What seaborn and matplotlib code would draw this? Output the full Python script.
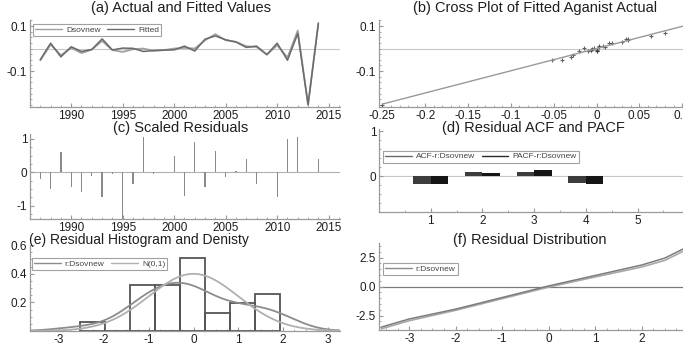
import numpy as np
import pandas as pd
import matplotlib
matplotlib.use("Agg")
import matplotlib.pyplot as plt
from matplotlib.ticker import MultipleLocator, FuncFormatter, FixedLocator
from matplotlib.lines import Line2D
import seaborn as sns

# ---------------- data ----------------
years = list(range(1987, 2015))
actual = [-0.052, 0.018, -0.030, 0.003, -0.020, -0.005, 0.034, -0.007, -0.015, -0.003,
          0.000, -0.010, -0.007, 0.000, 0.003, 0.000, 0.037, 0.064, 0.037, 0.030,
          0.010, 0.007, -0.027, 0.015, -0.040, 0.080, -0.250, 0.115]
fitted = [-0.050, 0.024, -0.037, 0.008, -0.013, -0.004, 0.043, -0.006, 0.002, 0.001,
          -0.013, -0.009, -0.007, -0.006, 0.011, -0.011, 0.042, 0.056, 0.039, 0.029,
          0.005, 0.011, -0.027, 0.024, -0.052, 0.067, -0.250, 0.110]
scaled_resid = [-0.20, -0.50, 0.60, -0.45, -0.60, -0.10, -0.75, -0.05, -1.40, -0.35,
                1.05, -0.05, 0.00, 0.50, -0.70, 0.90, -0.45, 0.65, -0.15, 0.05,
                0.40, -0.35, 0.00, -0.75, 1.00, 1.05, 0.00, 0.40]

lags = [1, 2, 3, 4]
acf = [-0.17, 0.10, 0.09, -0.16]
pacf = [-0.18, 0.07, 0.14, -0.17]

std_resid = [-0.36, -0.90, 1.08, -0.81, -1.08, -0.18, -1.35, -0.09, -2.50, -0.63,
             1.85, -0.09, 0.00, 0.90, -1.26, 1.62, -0.81, 1.17, -0.27, 0.09,
             0.72, -0.63, 0.00, -1.35, 1.80, 1.89, 0.02, 0.72]
hist_edges = [-2.53, -1.97, -1.42, -0.86, -0.30, 0.26, 0.82, 1.37, 1.93]

qq_x = [-3.6, -3.0, -2.0, -1.0, 0.0, 1.0, 2.0, 2.5, 2.9]
qq_resid = [-3.50, -2.80, -1.95, -0.95, 0.05, 0.95, 1.85, 2.45, 3.25]
qq_ref = [-3.65, -2.95, -2.05, -1.05, -0.05, 0.82, 1.68, 2.25, 3.05]

# ---------------- style ----------------
sns.set_theme(style="ticks")
plt.rcParams["font.family"] = ["Liberation Sans", "DejaVu Sans"]
plt.rcParams["axes.unicode_minus"] = False

W, H = 683, 347
fig = plt.figure(figsize=(W / 100, H / 100), dpi=100)


def box(left, top, right, bottom):
    return [left / W, 1 - bottom / H, (right - left) / W, (bottom - top) / H]


AX_COL = "#9a9a9a"
TXT_COL = "#1e1e1e"


def style(ax):
    sns.despine(ax=ax)
    for s in ("left", "bottom"):
        ax.spines[s].set_color(AX_COL)
        ax.spines[s].set_linewidth(0.9)
    ax.tick_params(which="major", direction="in", length=3, width=0.8, color=AX_COL,
                   labelsize=8.5, labelcolor=TXT_COL, pad=2)
    ax.tick_params(which="minor", direction="in", length=1.5, width=0.6, color=AX_COL)
    ax.set_xlabel("")
    ax.set_ylabel("")
    ax.set_facecolor("white")


def title(x, y, s, size=10.5):
    fig.text(x / W, 1 - y / H, s, ha="center", va="center", fontsize=size, color=TXT_COL)


def legend(ax, handles, anchor, ncol):
    lg = ax.legend(handles=handles, loc="upper left", bbox_to_anchor=anchor, ncol=ncol,
                   fontsize=6, frameon=True, fancybox=False, handlelength=3.2,
                   borderpad=0.25, columnspacing=0.8, handletextpad=0.5,
                   borderaxespad=0)
    lg.get_frame().set_edgecolor("#8a8a8a")
    lg.get_frame().set_linewidth(0.8)
    for t in lg.get_texts():
        t.set_color("#444444")


fmt_g = FuncFormatter(lambda v, p: f"{v:g}")

# (a) Actual and fitted values
ax_a = fig.add_axes(box(30, 20, 340, 107))
ax_a.axhline(0, color="#c8c8c8", lw=0.8, zorder=0)
sns.lineplot(x=years, y=actual, ax=ax_a, color="#a0a0a0", lw=1.3)
sns.lineplot(x=years, y=fitted, ax=ax_a, color="#6a6a6a", lw=1.1)
ax_a.set_xlim(1986, 2016.1)
ax_a.set_ylim(-0.26, 0.127)
ax_a.xaxis.set_major_locator(FixedLocator([1990, 1995, 2000, 2005, 2010, 2015]))
ax_a.xaxis.set_minor_locator(MultipleLocator(1))
ax_a.yaxis.set_major_locator(FixedLocator([-0.1, 0.1]))
ax_a.yaxis.set_minor_locator(MultipleLocator(0.025))
ax_a.yaxis.set_major_formatter(fmt_g)
style(ax_a)
legend(ax_a, [Line2D([], [], color="#a0a0a0", lw=1, label="Dsovnew"),
              Line2D([], [], color="#6a6a6a", lw=1, label="Fitted")], (0.01, 0.955), 2)
title(181, 8, "(a) Actual and Fitted Values")

# (b) Cross plot of fitted against actual
ax_b = fig.add_axes(box(379, 20, 683, 107))
ax_b.axhline(0, color="#c8c8c8", lw=0.8, zorder=0)
sns.regplot(x=actual, y=fitted, ax=ax_b, ci=None, marker="+",
            scatter_kws=dict(s=10, color="#3a3a3a", linewidths=0.8),
            line_kws=dict(color="#9a9a9a", lw=1.0))
ax_b.set_xlim(-0.254, 0.101)
ax_b.set_ylim(-0.26, 0.127)
ax_b.xaxis.set_major_locator(MultipleLocator(0.05))
ax_b.xaxis.set_minor_locator(MultipleLocator(0.01))
ax_b.xaxis.set_major_formatter(FuncFormatter(lambda v, p: f"{round(v, 2):g}"))
ax_b.yaxis.set_major_locator(FixedLocator([-0.1, 0.1]))
ax_b.yaxis.set_minor_locator(MultipleLocator(0.025))
ax_b.yaxis.set_major_formatter(fmt_g)
style(ax_b)
title(535, 8, "(b) Cross Plot of Fitted Aganist Actual")

# (c) Scaled residuals
ax_c = fig.add_axes(box(30, 134, 340, 219))
ax_c.axhline(0, color="#b0b0b0", lw=0.8, zorder=0)
sns.barplot(x=years, y=scaled_resid, ax=ax_c, native_scale=True, width=0.12,
            color="#8a8a8a", linewidth=0, saturation=1)
ax_c.set_xlim(1986, 2016.1)
ax_c.set_ylim(-1.4, 1.15)
ax_c.xaxis.set_major_locator(FixedLocator([1990, 1995, 2000, 2005, 2010, 2015]))
ax_c.xaxis.set_minor_locator(MultipleLocator(1))
ax_c.yaxis.set_major_locator(FixedLocator([-1, 0, 1]))
ax_c.yaxis.set_minor_locator(MultipleLocator(0.25))
ax_c.yaxis.set_major_formatter(fmt_g)
style(ax_c)
title(181, 128, "(c) Scaled Residuals")

# (d) Residual ACF and PACF
ax_d = fig.add_axes(box(379, 129, 683, 212))
ax_d.axhline(0, color="#c8c8c8", lw=0.8, zorder=0)
corr = pd.DataFrame({
    "lag": lags + lags,
    "value": acf + pacf,
    "series": ["ACF-r:Dsovnew"] * len(lags) + ["PACF-r:Dsovnew"] * len(lags),
})
sns.barplot(data=corr, x="lag", y="value", hue="series", ax=ax_d, native_scale=True,
            width=0.68, palette=["#3c3c3c", "#151515"], linewidth=0, saturation=1,
            legend=False)
ax_d.set_xlim(0.0, 5.88)
ax_d.set_ylim(-0.8, 1.05)
ax_d.xaxis.set_major_locator(FixedLocator([1, 2, 3, 4, 5]))
ax_d.xaxis.set_minor_locator(MultipleLocator(0.5))
ax_d.yaxis.set_major_locator(FixedLocator([0, 1]))
ax_d.yaxis.set_minor_locator(MultipleLocator(0.2))
ax_d.yaxis.set_major_formatter(fmt_g)
style(ax_d)
legend(ax_d, [Line2D([], [], color="#6a6a6a", lw=1, label="ACF-r:Dsovnew"),
              Line2D([], [], color="#2a2a2a", lw=1, label="PACF-r:Dsovnew")], (0.013, 0.74), 2)
title(533, 128, "(d) Residual ACF and PACF")

# (e) Residual histogram and density
ax_e = fig.add_axes(box(30, 245, 340, 331))
sns.histplot(std_resid, bins=hist_edges, stat="density", ax=ax_e, fill=False,
             color="#555555", edgecolor="#555555", linewidth=1.3, element="bars")
sns.kdeplot(std_resid, ax=ax_e, color="#8c8c8c", lw=1.3, cut=4)
z = np.linspace(-3.7, 3.3, 300)
sns.lineplot(x=z, y=np.exp(-z ** 2 / 2) / np.sqrt(2 * np.pi), ax=ax_e,
             color="#b0b0b0", lw=1.3)
ax_e.set_xlim(-3.65, 3.27)
ax_e.set_ylim(0, 0.6)
ax_e.xaxis.set_major_locator(FixedLocator([-3, -2, -1, 0, 1, 2, 3]))
ax_e.xaxis.set_minor_locator(MultipleLocator(0.25))
ax_e.yaxis.set_major_locator(FixedLocator([0.2, 0.4, 0.6]))
ax_e.yaxis.set_minor_locator(MultipleLocator(0.05))
ax_e.yaxis.set_major_formatter(fmt_g)
style(ax_e)
legend(ax_e, [Line2D([], [], color="#8c8c8c", lw=1, label="r:Dsovnew"),
              Line2D([], [], color="#b0b0b0", lw=1, label="N(0,1)")], (0.006, 0.85), 2)
title(139, 240, "(e) Residual Histogram and Denisty", size=10)

# (f) Residual distribution
ax_f = fig.add_axes(box(379, 243, 683, 330))
ax_f.axhline(0, color="#7a7a7a", lw=0.9, zorder=0)
sns.lineplot(x=qq_x, y=qq_ref, ax=ax_f, color="#a8a8a8", lw=1.2)
sns.lineplot(x=qq_x, y=qq_resid, ax=ax_f, color="#7c7c7c", lw=1.1)
ax_f.set_xlim(-3.65, 2.89)
ax_f.set_ylim(-3.75, 3.75)
ax_f.xaxis.set_major_locator(FixedLocator([-3, -2, -1, 0, 1, 2]))
ax_f.xaxis.set_minor_locator(MultipleLocator(0.25))
ax_f.yaxis.set_major_locator(FixedLocator([-2.5, 0.0, 2.5]))
ax_f.yaxis.set_minor_locator(MultipleLocator(0.5))
ax_f.yaxis.set_major_formatter(FuncFormatter(lambda v, p: f"{v:.1f}"))
style(ax_f)
legend(ax_f, [Line2D([], [], color="#8a8a8a", lw=1, label="r:Dsovnew")], (0.013, 0.77), 1)
title(530, 240, "(f) Residual Distribution")

fig.savefig("out.png", dpi=100, facecolor="white")
